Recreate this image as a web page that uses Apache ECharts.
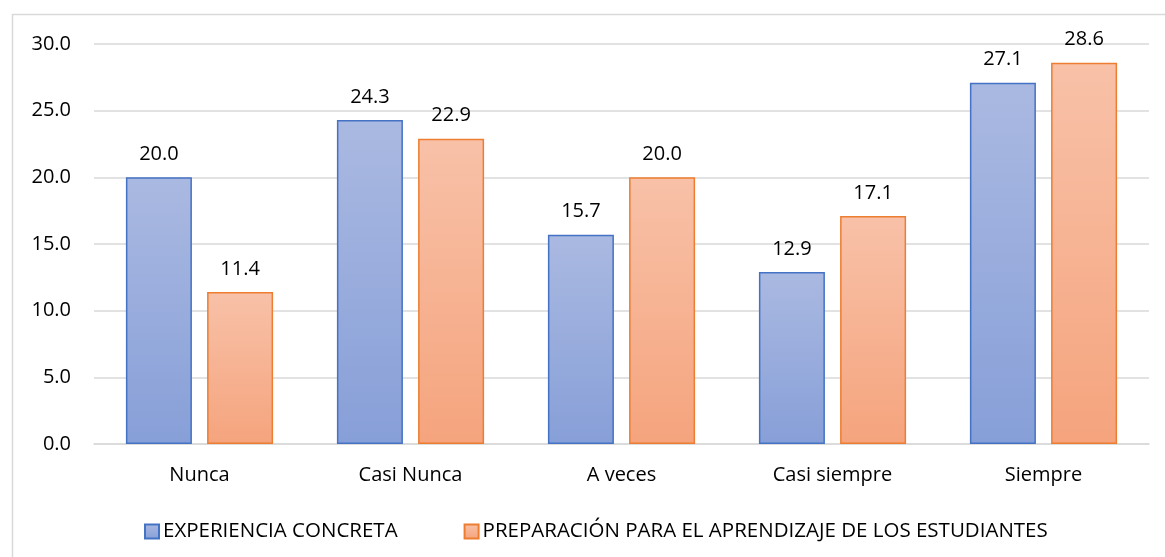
<!DOCTYPE html>
<html><head><meta charset="utf-8">
<script src="https://cdn.jsdelivr.net/npm/echarts@6/dist/echarts.min.js"></script>
<style>html,body{margin:0;padding:0;background:#fff}#c{width:1165px;height:557px}</style>
</head><body><div id="c"></div>
<script>
const categories = ['Nunca', 'Casi Nunca', 'A veces', 'Casi siempre', 'Siempre'];
const seriesNames = ['EXPERIENCIA CONCRETA', 'PREPARACIÓN PARA EL APRENDIZAJE DE LOS ESTUDIANTES'];
const experiencia = [20.0, 24.3, 15.7, 12.9, 27.1];
const preparacion = [11.4, 22.9, 20.0, 17.1, 28.6];
const yTicks = [0, 5, 10, 15, 20, 25, 30];

const font = '"Open Sans", "Noto Sans", sans-serif';
const chart = echarts.init(document.getElementById('c'));
function grad(top, bottom) {
  return new echarts.graphic.LinearGradient(0, 0, 0, 1, [{offset: 0, color: top}, {offset: 1, color: bottom}]);
}
const label = {show: true, position: 'top', distance: 13, color: '#000', fontSize: 20, fontFamily: font,
  formatter: p => p.value.toFixed(1)};
chart.setOption({
  animation: false,
  graphic: [{type: 'rect', shape: {x: 12.5, y: 14.5, width: 1170, height: 560},
    style: {fill: 'none', stroke: '#D9D9D9', lineWidth: 1.5}, silent: true}],
  grid: {left: 94, right: 16, top: 44, bottom: 113},
  legend: {top: 516, left: 139, itemWidth: 14, itemHeight: 14, itemGap: 66, icon: 'rect',
    textStyle: {fontSize: 20.5, color: '#000', fontFamily: font, padding: [0, 0, 0, -1]}, data: seriesNames},
  xAxis: {type: 'category', data: categories,
    axisLine: {lineStyle: {color: '#D9D9D9', width: 1.5}}, axisTick: {show: false},
    axisLabel: {fontSize: 20, color: '#000', fontFamily: font, margin: 21}},
  yAxis: {type: 'value', min: yTicks[0], max: yTicks[yTicks.length - 1], interval: 5,
    axisLine: {show: false}, axisTick: {show: false},
    splitLine: {lineStyle: {color: '#D9D9D9', width: 1.5}},
    axisLabel: {fontSize: 20, color: '#000', fontFamily: font, margin: 23, formatter: v => v.toFixed(1)}},
  series: [
    {name: seriesNames[0], type: 'bar', data: experiencia, barWidth: 66, barGap: '23%',
      itemStyle: {color: grad('#AAB9E1', '#879FD8'), borderColor: '#4472C4', borderWidth: 1.5}, label: label},
    {name: seriesNames[1], type: 'bar', data: preparacion, barWidth: 66, barGap: '23%',
      itemStyle: {color: grad('#F8C1A8', '#F5A47D'), borderColor: '#ED7D31', borderWidth: 1.5}, label: label}
  ]
});
</script></body></html>
